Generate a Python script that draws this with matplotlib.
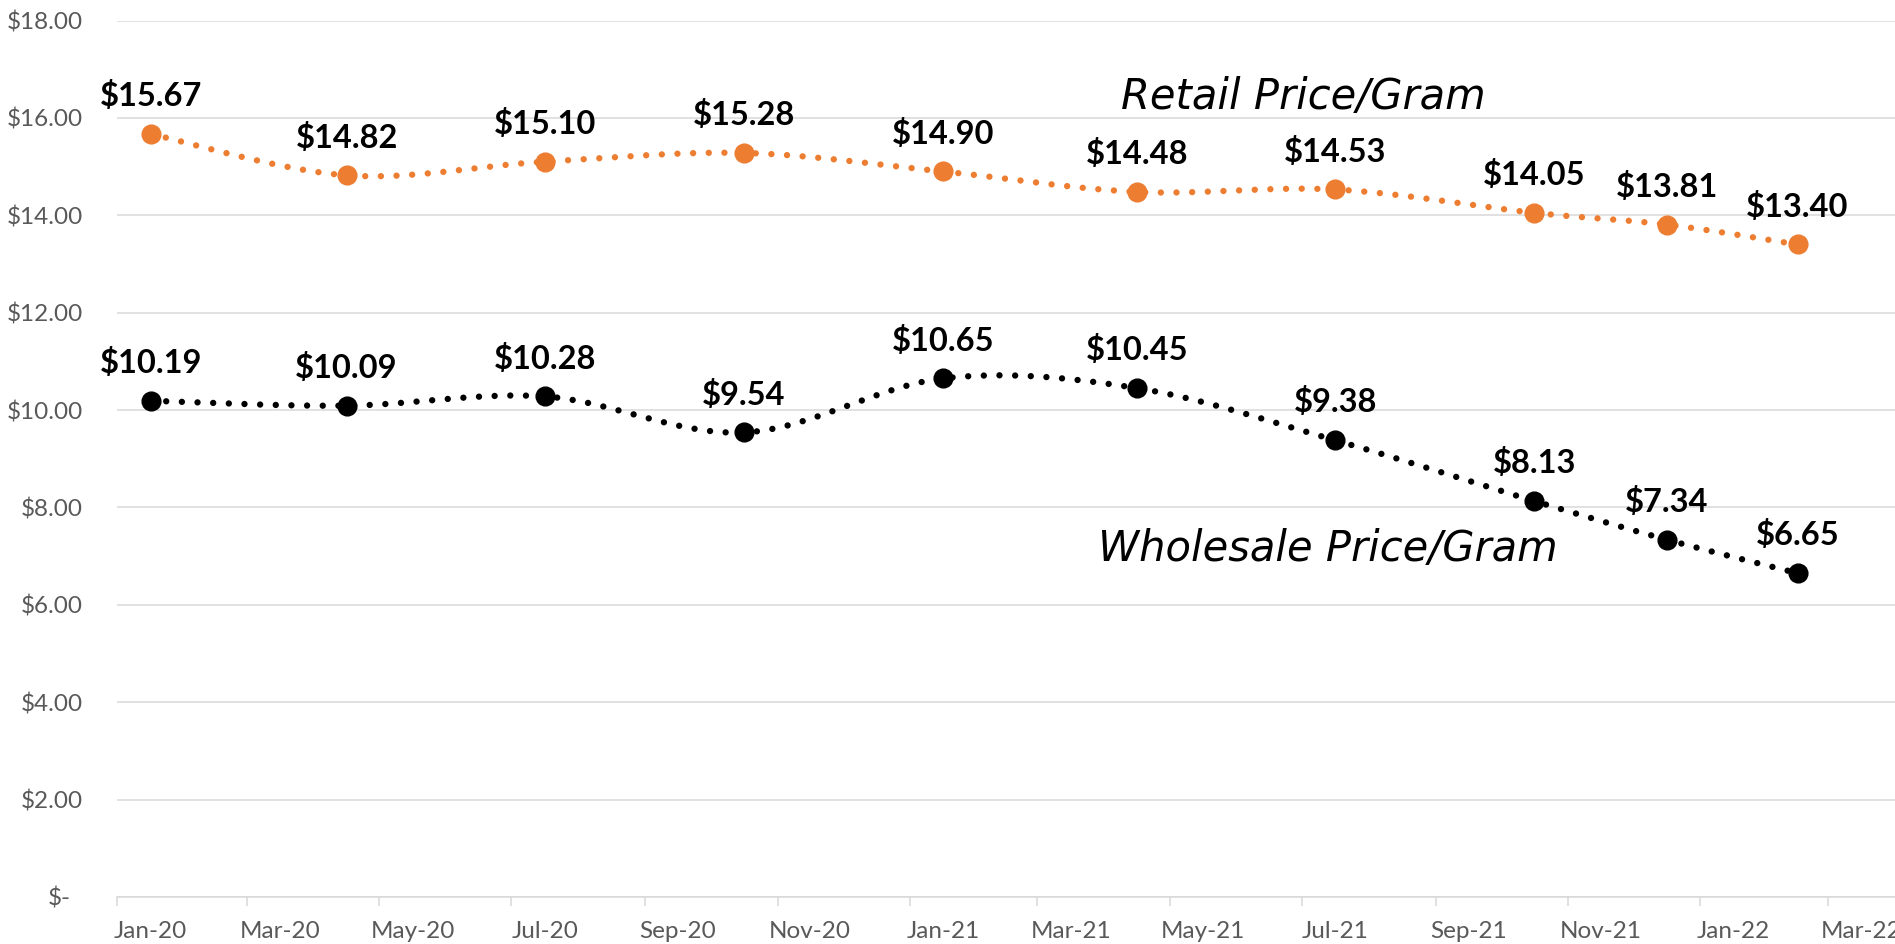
import matplotlib
matplotlib.use("Agg")
import matplotlib.pyplot as plt
import matplotlib.dates as mdates
import matplotlib.transforms as mtransforms
import numpy as np
import pandas as pd

# ---------------- data ----------------
months = ["2020-01", "2020-04", "2020-07", "2020-10", "2021-01",
          "2021-04", "2021-07", "2021-10", "2021-12", "2022-02"]
retail = [15.67, 14.82, 15.10, 15.28, 14.90, 14.48, 14.53, 14.05, 13.81, 13.40]
wholesale = [10.19, 10.09, 10.28, 9.54, 10.65, 10.45, 9.38, 8.13, 7.34, 6.65]

y_ticks = [0, 2, 4, 6, 8, 10, 12, 14, 16, 18]
y_tick_labels = ["$-", "$2.00", "$4.00", "$6.00", "$8.00", "$10.00",
                 "$12.00", "$14.00", "$16.00", "$18.00"]
x_tick_months = ["2020-01", "2020-03", "2020-05", "2020-07", "2020-09", "2020-11",
                 "2021-01", "2021-03", "2021-05", "2021-07", "2021-09", "2021-11",
                 "2022-01", "2022-03"]
x_tick_labels = ["Jan-20", "Mar-20", "May-20", "Jul-20", "Sep-20", "Nov-20",
                 "Jan-21", "Mar-21", "May-21", "Jul-21", "Sep-21", "Nov-21",
                 "Jan-22", "Mar-22"]

ORANGE = "#ED7D31"
GRID = "#D9D9D9"
TICKTXT = "#595959"


def month_start(p):
    return mdates.date2num(pd.Timestamp(p + "-01"))


def month_mid(p):
    s = pd.Timestamp(p + "-01")
    return mdates.date2num(s) + s.days_in_month / 2.0


def smooth(x, y, n=60):
    """Excel-like smoothed line (Catmull-Rom as cubic Bezier segments)."""
    P = np.column_stack([x, y]).astype(float)
    E = np.vstack([P[0], P, P[-1]])
    t = np.linspace(0, 1, n)[:, None]
    out = []
    for i in range(len(P) - 1):
        p0, p1, p2, p3 = E[i], E[i + 1], E[i + 2], E[i + 3]
        c1 = p1 + (p2 - p0) / 6.0
        c2 = p2 - (p3 - p1) / 6.0
        seg = (1 - t) ** 3 * p1 + 3 * (1 - t) ** 2 * t * c1 + 3 * (1 - t) * t ** 2 * c2 + t ** 3 * p2
        out.append(seg if i == 0 else seg[1:])
    return np.vstack(out)


fig = plt.figure(figsize=(18.95, 9.44), dpi=100)
ax = fig.add_axes([117 / 1895, 1 - 897 / 944, 1 - 117 / 1895, (897 - 20.5) / 944])

xs = [month_mid(m) for m in months]

for vals, color in [(retail, ORANGE), (wholesale, "black")]:
    curve = smooth(xs, vals)
    ax.plot(curve[:, 0], curve[:, 1], color=color, lw=4.6,
            linestyle=(0, (0.001, 2.45)), dash_capstyle="round", zorder=3,
            clip_on=False)
    ax.plot(xs, vals, linestyle="none", marker="o", markersize=13.5,
            color=color, zorder=4, clip_on=False)
    for x, v in zip(xs, vals):
        ax.annotate(f"${v:.2f}", (x, v), xytext=(0, 20), textcoords="offset points",
                    ha="center", va="baseline", fontsize=23.5, fontweight="bold",
                    family="Lato", color="black", zorder=5)

# series names
ax.text(mdates.date2num(pd.Timestamp("2021-07-02")), 16.18, "Retail Price/Gram",
        ha="center", va="baseline", fontsize=30, style="italic",
        family="DejaVu Sans", color="black")
ax.text(mdates.date2num(pd.Timestamp("2021-07-13")), 6.91, "Wholesale Price/Gram",
        ha="center", va="baseline", fontsize=30, style="italic",
        family="DejaVu Sans", color="black")

# axes
ax.set_xlim(month_start("2020-01"), mdates.date2num(pd.Timestamp("2022-04-01")))
ax.set_ylim(0, 18)

ax.set_yticks(y_ticks)
ax.set_yticklabels(y_tick_labels)
ax.tick_params(axis="y", length=0, pad=24.5, labelsize=17.5, labelcolor=TICKTXT)
for lab in ax.get_yticklabels():
    lab.set_family("Lato")
# "$-" sits a little left in the accounting format
lab0 = ax.get_yticklabels()[0]
lab0.set_transform(lab0.get_transform() + mtransforms.ScaledTranslation(-12 / 100, 0, fig.dpi_scale_trans))

ax.set_xticks([month_start(m) for m in x_tick_months])
ax.set_xticklabels([])
ax.tick_params(axis="x", which="major", length=6.5, width=1.1, color=GRID, direction="out")
ax.set_xticks([month_mid(m) for m in x_tick_months], minor=True)
ax.set_xticklabels(x_tick_labels, minor=True)
ax.tick_params(axis="x", which="minor", length=0, pad=17, labelsize=17.5, labelcolor=TICKTXT)
for lab in ax.get_xticklabels(minor=True):
    lab.set_family("Lato")

ax.grid(axis="y", color=GRID, lw=1.1)
ax.set_axisbelow(True)
for s in ["top", "right", "left"]:
    ax.spines[s].set_visible(False)
ax.spines["bottom"].set_color(GRID)
ax.spines["bottom"].set_linewidth(1.1)

fig.savefig("out.png", dpi=100)
